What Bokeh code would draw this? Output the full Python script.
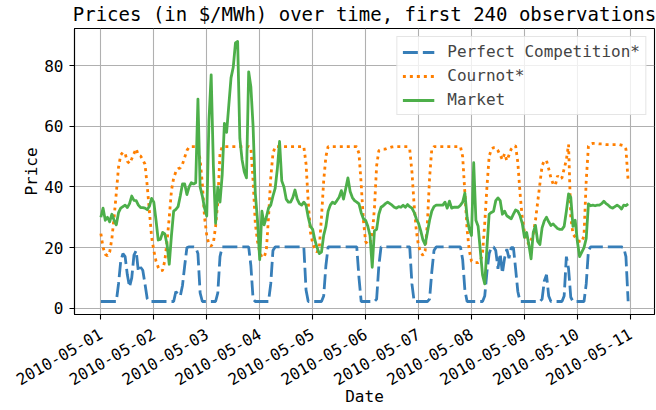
import math
import pandas as pd
from bokeh.plotting import figure
from bokeh.models import (Range1d, FixedTicker, DatetimeTickFormatter, Legend,
                          LegendItem)
from bokeh.embed import file_html
from bokeh.resources import INLINE

# ---------------- data (hourly, 2010-05-01 00:00 onwards) ----------------
start_time = "2010-05-01 00:00"
n_obs = 240
title_text = "Prices (in $/MWh) over time, first 240 observations"
series_names = ["Perfect Competition*", "Cournot*", "Market"]

perfect_competition = [
    2.2, 2.2, 2.2, 2.2, 2.2, 2.2, 2.2, 2.2, 8, 15.5, 18, 17, 11, 7, 10, 17.5, 19, 12, 13.5, 12.5, 8, 3.2, 2.2, 2.2,
    2.2, 2.2, 2.2, 2.2, 2.2, 2.2, 2.2, 2.2, 2.2, 2.2, 5.5, 4.5, 4, 7.5, 14, 20, 20.2, 20.2, 20.2, 20, 18, 5, 2.2, 2.2,
    2.2, 2.2, 2.2, 2.2, 2.2, 5, 17, 20.2, 20.2, 20.2, 20.2, 20.2, 20.2, 20.2, 20.2, 20.2, 20.2, 20.2, 20.2, 20.2, 14, 3, 2.2, 2.2,
    2.2, 2.2, 2.2, 2.2, 2.2, 8, 19, 20.2, 20.2, 20.2, 20.2, 20.2, 20.2, 20.2, 20.2, 20.2, 20.2, 20.2, 20.2, 20.2, 20.2, 6, 2.2, 2.2,
    2.2, 2.2, 2.2, 2.2, 2.2, 4, 14, 20.2, 20.2, 20.2, 20.2, 20.2, 20.2, 20.2, 20.2, 20.2, 20.2, 20.2, 20.2, 20.2, 20.2, 10, 2.2, 2.2,
    2.2, 2.2, 2.2, 2.2, 2.2, 3, 14, 20.2, 20.2, 20.2, 20.2, 20.2, 20.2, 20.2, 20.2, 20.2, 20.2, 20.2, 20.2, 20.2, 20.2, 8, 2.2, 2.2,
    2.2, 2.2, 2.2, 2.2, 2.2, 3, 12, 19, 20.2, 20.2, 20.2, 20.2, 20.2, 20.2, 20.2, 20.2, 20.2, 20.2, 20.2, 20.2, 16, 6, 2.2, 2.2,
    2.2, 2.2, 2.2, 2.2, 2.2, 2.2, 4, 12, 18, 20.2, 20.2, 19, 13, 18, 11.5, 16.5, 19.5, 16.5, 20, 20, 13, 5.5, 2.2, 2.2,
    2.2, 2.2, 2.2, 2.2, 2.2, 2.2, 2.2, 2.2, 3, 9, 11, 4, 2.2, 2.2, 2.2, 2.2, 2.2, 2.2, 4, 17, 13, 3.6, 2.2, 2.2,
    2.2, 2.2, 2.2, 2.2, 8, 19, 20.2, 20.2, 20.2, 20.2, 20.2, 20.2, 20.2, 20.2, 20.2, 20.2, 20.2, 20.2, 20.2, 20.2, 20.2, 20, 17, 2.3,
]

cournot = [
    24.6, 20, 17.8, 17.3, 18.5, 23, 30, 38, 46.5, 50.5, 51.5, 51, 48.5, 47.7, 49.3, 51, 52.6, 50.5, 50.2, 49, 47.5, 40.5, 32, 23.5,
    19, 15.5, 13.5, 12.3, 12.5, 15.7, 22, 30, 38.8, 43, 45, 46, 46.3, 47.5, 49.8, 52, 53.2, 53.3, 53.3, 53.3, 52.5, 49, 41, 30,
    24, 21, 20.5, 21.5, 27, 35, 51, 53.3, 53.3, 53.3, 53.3, 53.3, 53.3, 53.3, 53.3, 53.3, 53.3, 53.3, 53.3, 53.3, 53, 42, 28, 22,
    18.5, 16.8, 16.8, 19, 30, 43, 51, 53.3, 53.3, 53.3, 53.3, 53.3, 53.3, 53.3, 53.3, 53.3, 53.3, 53.3, 53.3, 53.3, 53.3, 47.6, 35, 25,
    21.5, 19.5, 18.5, 20, 30, 42, 50, 53.3, 53.3, 53.3, 53.3, 53.3, 53.3, 53.3, 53.3, 53.3, 53.3, 53.3, 53.3, 53.3, 53.3, 51, 41, 29,
    22, 21, 21.5, 24, 33, 47, 52, 52.3, 52.5, 52.5, 52.8, 53, 53.2, 53.3, 53.3, 53.3, 53.3, 53.3, 53.3, 53.3, 52.5, 45, 34, 25.5,
    20.5, 18.5, 17.4, 19, 28, 43, 52.5, 53.3, 53.3, 53.3, 53.3, 53.3, 53.3, 53.3, 53.3, 53.3, 53.3, 53.3, 53.3, 53.3, 50, 38, 26, 19,
    15.5, 15, 15, 15, 15.5, 18, 28, 40, 50, 52.5, 53, 53, 52, 50.5, 49, 51, 48.7, 50.5, 52.5, 53.3, 53.6, 48, 38, 30,
    25, 22.5, 21, 22.5, 24.5, 29, 35, 41, 47, 48.7, 48.7, 46, 43, 41, 40.5, 43.7, 42.6, 43, 46, 49, 54, 30, 24.5, 23.4,
    22.5, 22, 21.8, 24, 42, 53.5, 54.2, 54.4, 54.4, 54.3, 54.2, 54.2, 54.1, 54, 54, 54, 54, 54, 54, 54, 53.8, 53.6, 52.5, 42,
]

market = [
    30, 33, 29, 30, 28.5, 31, 29, 27.5, 31.5, 33, 33.5, 34, 33.2, 34.5, 37, 35.6, 35.5, 34, 33.2, 33.2, 33, 32.5, 33.6, 36.2,
    35, 29, 22.5, 22.7, 25, 24.5, 21, 14.5, 24, 32, 32.6, 33.5, 37, 41, 41, 37.5, 40, 41.4, 41, 41.4, 69, 40, 37, 33,
    30.4, 62, 77, 47, 28, 40, 35, 44, 61, 58, 67, 76, 79.5, 87.5, 88, 56, 49, 45, 43, 78, 73, 60, 38, 29,
    16, 32, 27.5, 30, 33, 34, 37, 39.5, 46, 55, 42, 40, 36, 35, 35, 36.5, 39, 36, 34.5, 34, 35, 34, 30, 27,
    26, 22.5, 20, 18, 18.5, 24, 27, 32, 34, 35, 34.5, 35.5, 36.6, 38.8, 36, 39.5, 43, 38.5, 36.5, 35.5, 35, 34.4, 31.5, 29.5,
    29, 27, 24, 13.5, 25.5, 26, 31, 33.3, 33.8, 34.5, 35, 34.5, 34, 33.3, 33, 33.5, 33.3, 34, 33.3, 34.2, 33.5, 33, 31.6, 29.5,
    28, 25.5, 22.5, 21, 25, 29, 32, 33.5, 34, 34, 34, 34, 35, 33, 35.3, 33, 33.3, 33.3, 33.3, 34, 35, 38, 30, 26,
    24, 48, 29, 27, 19, 11, 8, 20, 31, 31.6, 32, 35.5, 36.4, 35.5, 31, 32, 30.5, 30, 29.5, 31, 32.4, 32, 30.5, 28,
    23.4, 25, 21, 16.3, 25, 27.3, 22, 21, 26.5, 28.8, 30, 28.5, 27.3, 27.8, 27, 26.3, 26, 26, 27, 32, 37.7, 36.6, 27, 29,
    22, 17, 18.5, 20, 23, 34.4, 33.8, 34, 33.8, 34, 34, 34.5, 35.3, 34.5, 34, 33.3, 33, 33.5, 34, 33.5, 32.7, 34, 33.8, 34.4,
]

y_ticks = [0, 20, 40, 60, 80]
x_tick_labels = ["2010-05-01", "2010-05-02", "2010-05-03", "2010-05-04", "2010-05-05", "2010-05-06",
                 "2010-05-07", "2010-05-08", "2010-05-09", "2010-05-10", "2010-05-11"]

# ---------------- styling ----------------
FONT = "DejaVu Sans Mono"
C_BLUE, C_ORANGE, C_GREEN = "#377eb8", "#ff7f00", "#4daf4a"

dates = pd.date_range(start_time, periods=n_obs, freq="h")
t0 = dates[0]
span_h = n_obs - 1
pad_h = span_h * 0.05
x_range = Range1d(start=t0 - pd.Timedelta(hours=pad_h), end=t0 + pd.Timedelta(hours=span_h + pad_h))
all_vals = perfect_competition + cournot + market
ymin, ymax = min(all_vals), max(all_vals)
ypad = (ymax - ymin) * 0.05
y_range = Range1d(start=ymin - ypad, end=ymax + ypad)

p = figure(width=656, height=410, x_axis_type="datetime", x_range=x_range, y_range=y_range,
           output_backend="svg", toolbar_location=None,
           min_border_left=74, min_border_right=2, min_border_top=28, min_border_bottom=96)
p.background_fill_color = "white"
p.border_fill_color = "white"
p.outline_line_color = "black"
p.outline_line_width = 1.1

# title
p.title.text = title_text
p.title.align = "center"
p.title.vertical_align = "top"
p.title.text_font = FONT
p.title.text_font_size = "19px"
p.title.text_font_style = "normal"
p.title.text_color = "black"
p.title.standoff = 4

r_pc = p.line(dates, perfect_competition, line_color=C_BLUE, line_width=2.8, line_dash="15 5")
r_co = p.line(dates, cournot, line_color=C_ORANGE, line_width=2.8, line_dash="3 4")
r_mk = p.line(dates, market, line_color=C_GREEN, line_width=2.8, line_join="round")

# axes
tick_ms = [int(pd.Timestamp(s).value // 10**6) for s in x_tick_labels]
p.xaxis.ticker = FixedTicker(ticks=tick_ms)
p.xaxis.formatter = DatetimeTickFormatter(days="%Y-%m-%d", months="%Y-%m-%d", hours="%Y-%m-%d")
p.xaxis.major_label_overrides = {t: s for t, s in zip(tick_ms, x_tick_labels)}
p.xaxis.major_label_orientation = math.pi / 6
p.yaxis.ticker = FixedTicker(ticks=y_ticks)

for ax in (p.xaxis, p.yaxis):
    ax.axis_line_color = "black"
    ax.axis_line_width = 1.1
    ax.major_tick_line_color = "black"
    ax.major_tick_line_width = 1.1
    ax.major_tick_out = 5
    ax.major_tick_in = 0
    ax.minor_tick_line_color = None
    ax.major_label_text_font = FONT
    ax.major_label_text_font_size = "16px"
    ax.major_label_text_color = "black"
    ax.axis_label_text_font = FONT
    ax.axis_label_text_font_size = "16px"
    ax.axis_label_text_font_style = "normal"
    ax.axis_label_text_color = "black"

p.xaxis.axis_label = "Date"
p.yaxis.axis_label = "Price"
p.xaxis.major_label_standoff = 13
p.yaxis.major_label_standoff = 6
p.xaxis.axis_label_standoff = -7
p.yaxis.axis_label_standoff = 0

p.grid.grid_line_color = "#b0b0b0"
p.grid.grid_line_width = 1.1

# legend
legend = Legend(items=[LegendItem(label=series_names[0], renderers=[r_pc]),
                       LegendItem(label=series_names[1], renderers=[r_co]),
                       LegendItem(label=series_names[2], renderers=[r_mk])],
                location="top_right", margin=8, padding=5, spacing=5,
                glyph_width=32, glyph_height=18, label_height=18, label_standoff=13,
                label_text_font=FONT, label_text_font_size="16px",
                border_line_color="#cccccc", border_line_width=1,
                background_fill_color="white", background_fill_alpha=0.8)
p.add_layout(legend)

open("out.html", "w").write(file_html(p, INLINE))
